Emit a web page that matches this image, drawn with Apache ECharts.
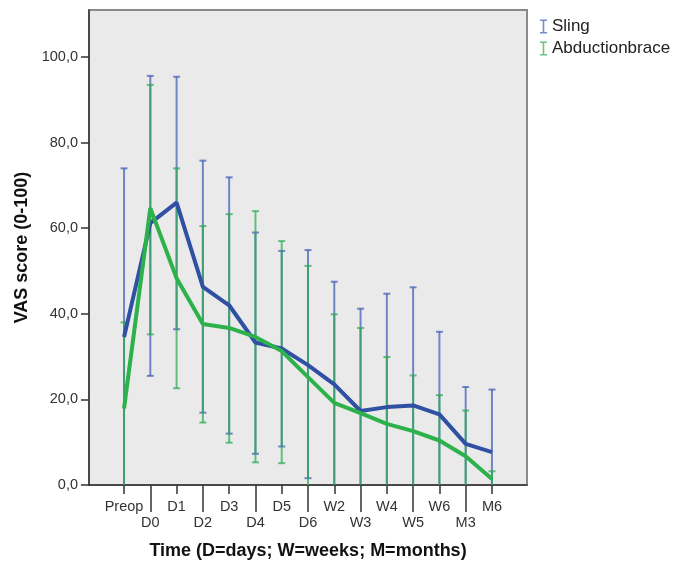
<!DOCTYPE html>
<html>
<head>
<meta charset="utf-8">
<title>VAS score</title>
<script src="https://cdn.jsdelivr.net/npm/echarts@6/dist/echarts.min.js"></script>
<style>
  html, body { margin: 0; padding: 0; background: #fff; }
  #chart { width: 677px; height: 561px; }
</style>
</head>
<body>
<div id="chart"></div>
<script>
// x categories (D=days, W=weeks, M=months)
const categories = ['Preop', 'D0', 'D1', 'D2', 'D3', 'D4', 'D5', 'D6', 'W2', 'W3', 'W4', 'W5', 'W6', 'M3', 'M6']
const yTicks = [0, 20, 40, 60, 80, 100]

// Sling: mean and error bar ends
const slingMean = [34.6, 61.2, 66.0, 46.3, 42.0, 33.3, 31.9, 28.0, 23.5, 17.3, 18.2, 18.6, 16.5, 9.6, 7.7]
const slingLow = [-4.8, 25.5, 36.4, 16.9, 12.0, 7.3, 9.0, 1.6, -0.5, -6.6, -8.3, -9.0, -2.8, -3.7, -6.9]
const slingHigh = [74.0, 95.6, 95.4, 75.8, 71.9, 59.0, 54.7, 54.9, 47.5, 41.2, 44.7, 46.2, 35.8, 22.9, 22.3]

// Abductionbrace
const braceMean = [17.9, 64.7, 48.3, 37.6, 36.7, 34.6, 31.3, 25.2, 19.2, 16.8, 14.3, 12.6, 10.4, 6.7, 1.4]
const braceLow = [-2.2, 35.2, 22.6, 14.6, 9.9, 5.3, 5.1, -0.8, -1.5, -3.1, -1.3, -0.4, -0.2, -4.0, -0.4]
const braceHigh = [38.0, 93.5, 74.0, 60.5, 63.3, 64.0, 57.0, 51.2, 39.9, 36.7, 29.9, 25.6, 21.0, 17.4, 3.2]

const font = 'Liberation Sans, Arial, sans-serif'
const evenIdx = categories.map((c, i) => i).filter(i => i % 2 === 0)
const oddIdx = categories.map((c, i) => i).filter(i => i % 2 === 1)
const iBeam = 'path://M0,0h7v1.6h-2.7v10.8h2.7v1.6h-7v-1.6h2.7v-10.8h-2.7z'

function errorBar (color) {
  return function (params, api) {
    const cs = params.coordSys
    const x = api.coord([api.value(0), 0])[0]
    const yHi = api.coord([0, api.value(2)])[1]
    const yLo = api.coord([0, api.value(1)])[1]
    const top = cs.y
    const bottom = cs.y + cs.height
    const style = { stroke: color, lineWidth: 2 }
    const children = [{
      type: 'line',
      shape: { x1: x, y1: Math.max(yHi, top), x2: x, y2: Math.min(yLo, bottom) },
      style: style
    }]
    if (yHi >= top) {
      children.push({ type: 'line', shape: { x1: x - 3.5, y1: yHi, x2: x + 3.5, y2: yHi }, style: style })
    }
    if (yLo <= bottom) {
      children.push({ type: 'line', shape: { x1: x - 3.5, y1: yLo, x2: x + 3.5, y2: yLo }, style: style })
    }
    return { type: 'group', children: children }
  }
}

const slingBarColor = 'rgba(60, 90, 180, 0.7)'
const braceBarColor = 'rgba(40, 170, 80, 0.7)'

const xAxisBase = {
  type: 'value',
  min: -4 / 3,
  max: 46 / 3,
  position: 'bottom',
  splitLine: { show: false }
}

const option = {
  animation: false,
  textStyle: { fontFamily: font },
  grid: {
    left: 89,
    top: 10,
    width: 438,
    height: 475,
    outerBoundsMode: 'none',
    containLabel: false,
    show: true,
    backgroundColor: '#EAEAEA',
    borderColor: '#8a8a8a',
    borderWidth: 2
  },
  legend: {
    orient: 'vertical',
    left: 535,
    top: 13,
    itemWidth: 7,
    itemHeight: 14,
    itemGap: 5,
    textStyle: { fontSize: 17, color: '#222', fontFamily: font },
    data: [
      { name: 'Sling', icon: iBeam },
      { name: 'Abductionbrace', icon: iBeam }
    ]
  },
  xAxis: [
    Object.assign({}, xAxisBase, {
      name: 'Time (D=days; W=weeks; M=months)',
      nameLocation: 'middle',
      nameGap: 57,
      nameTextStyle: { fontSize: 18, fontWeight: 'bold', color: '#111', fontFamily: font },
      axisLine: { show: true, onZero: false, lineStyle: { color: '#333', width: 1.5 } },
      axisTick: { show: true, customValues: evenIdx, length: 9, lineStyle: { color: '#333', width: 1.5 } },
      axisLabel: {
        customValues: evenIdx,
        margin: 14,
        fontSize: 14.5,
        color: '#333',
        formatter: v => categories[Math.round(v)]
      }
    }),
    Object.assign({}, xAxisBase, {
      axisLine: { show: false, onZero: false },
      axisTick: { show: true, customValues: oddIdx, length: 27, lineStyle: { color: '#333', width: 1.5 } },
      axisLabel: {
        customValues: oddIdx,
        margin: 30,
        fontSize: 14.5,
        color: '#333',
        formatter: v => categories[Math.round(v)]
      }
    })
  ],
  yAxis: {
    type: 'value',
    min: 0,
    max: 111,
    position: 'left',
    name: 'VAS score (0-100)',
    nameLocation: 'middle',
    nameGap: 58,
    nameTextStyle: { fontSize: 18, fontWeight: 'bold', color: '#111', fontFamily: font },
    splitLine: { show: false },
    axisLine: { show: true, onZero: false, lineStyle: { color: '#333', width: 1.5 } },
    axisTick: { show: true, customValues: yTicks, length: 8, lineStyle: { color: '#333', width: 1.5 } },
    axisLabel: {
      customValues: yTicks,
      margin: 11,
      fontSize: 14.5,
      color: '#333',
      formatter: v => v.toFixed(1).replace('.', ',')
    }
  },
  series: [
    {
      name: 'Sling',
      type: 'custom',
      xAxisIndex: 0,
      itemStyle: { color: slingBarColor },
      renderItem: errorBar(slingBarColor),
      encode: { x: 0, y: [1, 2] },
      data: categories.map((c, i) => [i, slingLow[i], slingHigh[i]]),
      z: 2
    },
    {
      name: 'Abductionbrace',
      type: 'custom',
      xAxisIndex: 0,
      itemStyle: { color: braceBarColor },
      renderItem: errorBar(braceBarColor),
      encode: { x: 0, y: [1, 2] },
      data: categories.map((c, i) => [i, braceLow[i], braceHigh[i]]),
      z: 3
    },
    {
      name: 'Sling mean',
      type: 'line',
      xAxisIndex: 0,
      symbol: 'none',
      lineStyle: { color: '#2f50a3', width: 4 },
      data: categories.map((c, i) => [i, slingMean[i]]),
      z: 4
    },
    {
      name: 'Abductionbrace mean',
      type: 'line',
      xAxisIndex: 0,
      symbol: 'none',
      lineStyle: { color: '#2db24b', width: 4 },
      data: categories.map((c, i) => [i, braceMean[i]]),
      z: 5
    }
  ]
}

const myChart = echarts.init(document.getElementById('chart'), null, { renderer: 'canvas' })
myChart.setOption(option)
</script>
</body>
</html>
